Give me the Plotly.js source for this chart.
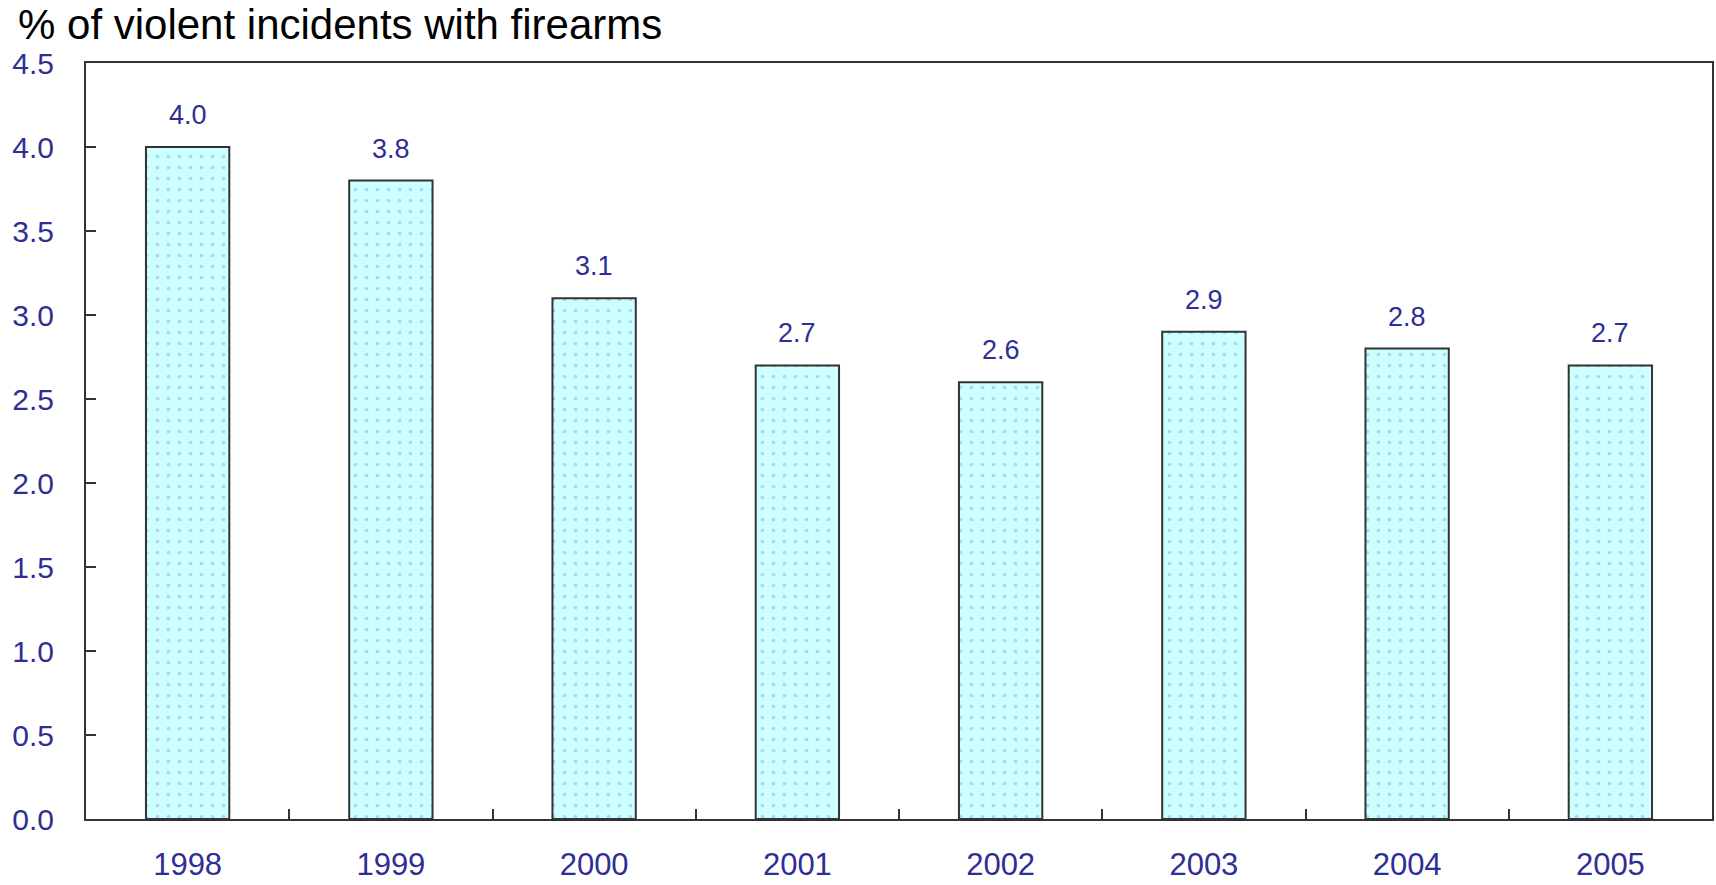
<!DOCTYPE html>
<html>
<head>
<meta charset="utf-8">
<script src="https://cdn.plot.ly/plotly-3.0.1.min.js"></script>
<style>html,body{margin:0;padding:0;background:#fff;}#chart{width:1716px;height:885px;}</style>
</head>
<body>
<div id="chart"></div>
<script>
const years = ["1998","1999","2000","2001","2002","2003","2004","2005"];
const values = [4.0, 3.8, 3.1, 2.7, 2.6, 2.9, 2.8, 2.7];
const valueLabels = ["4.0","3.8","3.1","2.7","2.6","2.9","2.8","2.7"];
const yTicks = [0,0.5,1.0,1.5,2.0,2.5,3.0,3.5,4.0,4.5];
const titleText = "% of violent incidents with firearms";

const labelColor = "#2e2e96";
const axisColor = "#333333";
const fontFamily = "Liberation Sans, Arial, sans-serif";

const trace = {
  type: "bar",
  x: years,
  y: values,
  width: 0.41,
  marker: {
    color: "#ccffff",
    line: {color: axisColor, width: 2},
    pattern: {shape: ".", fgcolor: "#acd6f2", bgcolor: "#ccffff", size: 11, solidity: 0.09}
  },
  hoverinfo: "x+y"
};

const annotations = years.map((yr, i) => ({
  x: i, y: values[i], xref: "x", yref: "y",
  text: valueLabels[i], showarrow: false,
  xanchor: "center", yanchor: "middle",
  yshift: 32, font: {family: fontFamily, size: 27, color: labelColor}
}));

const layout = {
  width: 1716, height: 885,
  margin: {l: 86, r: 4, t: 63, b: 66},
  paper_bgcolor: "#fff", plot_bgcolor: "#fff",
  showlegend: false,
  title: {
    text: titleText,
    font: {family: fontFamily, size: 42, color: "#000"},
    x: 0.0105, xref: "container", xanchor: "left",
    y: 0.9725, yref: "container", yanchor: "middle"
  },
  xaxis: {
    type: "category",
    range: [-0.5, 7.5],
    showline: true, linecolor: axisColor, linewidth: 2, mirror: true,
    ticks: "inside", tickson: "boundaries", ticklen: 10, tickwidth: 2, tickcolor: axisColor,
    showgrid: false, zeroline: false,
    tickfont: {family: fontFamily, size: 31, color: labelColor},
    ticklabelstandoff: 17
  },
  yaxis: {
    range: [0, 4.5],
    tickvals: yTicks,
    tickformat: ".1f",
    showline: true, linecolor: axisColor, linewidth: 2, mirror: true,
    ticks: "inside", ticklen: 10, tickwidth: 2, tickcolor: axisColor,
    showgrid: false, zeroline: false,
    tickfont: {family: fontFamily, size: 30, color: labelColor},
    ticklabelstandoff: 24
  },
  annotations: annotations
};

Plotly.newPlot("chart", [trace], layout, {displayModeBar: false, staticPlot: true});
</script>
</body>
</html>
